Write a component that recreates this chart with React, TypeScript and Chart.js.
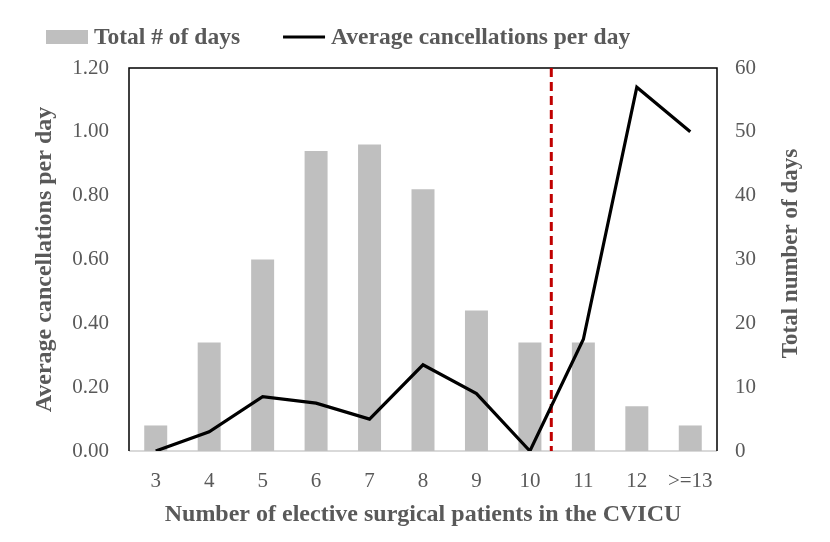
import React, { useEffect, useRef } from "react";
import { Chart, registerables } from "chart.js";

Chart.register(...registerables);

const categories = ["3", "4", "5", "6", "7", "8", "9", "10", "11", "12", ">=13"];
const totalDays = [4, 17, 30, 47, 48, 41, 22, 17, 17, 7, 4];
const avgCancellations = [0, 0.06, 0.17, 0.15, 0.1, 0.27, 0.18, 0, 0.35, 1.14, 1.0];
const leftTicks = { min: 0, max: 1.2, step: 0.2 };
const rightTicks = { min: 0, max: 60, step: 10 };
const thresholdIndex = 7.4; // between "10" and "11"
const rightTitle = "Total number of days";

const FONT = '"Liberation Serif", "Times New Roman", serif';
const GREY = "#595959";

const framePlugin = {
  id: "frame",
  beforeDatasetsDraw(chart: any) {
    const { ctx, chartArea } = chart;
    const { left, right, top, bottom } = chartArea;
    ctx.save();
    ctx.strokeStyle = "#d9d9d9";
    ctx.lineWidth = 2;
    ctx.beginPath();
    ctx.moveTo(left, bottom);
    ctx.lineTo(right, bottom);
    ctx.stroke();
    ctx.strokeStyle = "#000";
    ctx.lineWidth = 1.5;
    ctx.beginPath();
    ctx.moveTo(left, bottom);
    ctx.lineTo(left, top);
    ctx.lineTo(right, top);
    ctx.lineTo(right, bottom);
    ctx.stroke();
    const x = chart.scales.x.getPixelForValue(thresholdIndex);
    ctx.strokeStyle = "#c00000";
    ctx.lineWidth = 3;
    ctx.setLineDash([9, 5]);
    ctx.beginPath();
    ctx.moveTo(x, top);
    ctx.lineTo(x, bottom);
    ctx.stroke();
    ctx.restore();
  },
};

const legendPlugin = {
  id: "customLegend",
  afterDraw(chart: any) {
    const { ctx, chartArea } = chart;
    const y = 37;
    let x = 46;
    const boxW = 42;
    ctx.save();
    ctx.font = `bold 23.5px ${FONT}`;
    ctx.textBaseline = "middle";
    ctx.textAlign = "left";
    chart.data.datasets.forEach((ds: any) => {
      if (ds.type === "line") {
        ctx.strokeStyle = ds.borderColor;
        ctx.lineWidth = 3;
        ctx.beginPath();
        ctx.moveTo(x, y);
        ctx.lineTo(x + boxW, y);
        ctx.stroke();
      } else {
        ctx.fillStyle = ds.backgroundColor;
        ctx.fillRect(x, y - 7, boxW, 14);
      }
      const tx = x + boxW + 6;
      ctx.fillStyle = GREY;
      ctx.fillText(ds.label, tx, y + 1);
      x = tx + ctx.measureText(ds.label).width + 43;
    });
    ctx.font = `bold 23px ${FONT}`;
    ctx.textAlign = "center";
    ctx.translate(791, (chartArea.top + chartArea.bottom) / 2 - 6);
    ctx.rotate(-Math.PI / 2);
    ctx.fillText(rightTitle, 0, 0);
    ctx.restore();
  },
};

export default function App() {
  const ref = useRef<HTMLCanvasElement>(null);
  useEffect(() => {
    if (!ref.current) return;
    const tickFont = { family: FONT, size: 21 };
    const titleFont = { family: FONT, size: 24, weight: "bold" as const };
    const chart = new Chart(ref.current, {
      type: "bar",
      data: {
        labels: categories,
        datasets: [
          {
            type: "bar",
            label: "Total # of days",
            data: totalDays,
            backgroundColor: "#bfbfbf",
            yAxisID: "y1",
            barPercentage: 0.43,
            categoryPercentage: 1.0,
            order: 2,
          },
          {
            type: "line",
            label: "Average cancellations per day",
            data: avgCancellations,
            borderColor: "#000000",
            backgroundColor: "#000000",
            borderWidth: 3.2,
            pointRadius: 0,
            tension: 0,
            yAxisID: "y",
            order: 1,
          } as any,
        ],
      },
      options: {
        animation: false,
        responsive: true,
        maintainAspectRatio: false,
        layout: { padding: { top: 68, left: 0, right: 0, bottom: 0 } },
        plugins: { legend: { display: false }, tooltip: { enabled: false } },
        scales: {
          x: {
            grid: { display: false, drawTicks: false },
            border: { display: false },
            ticks: { font: tickFont, color: GREY, padding: 18, maxRotation: 0, autoSkip: false },
            title: {
              display: true,
              text: "Number of elective surgical patients in the CVICU",
              font: titleFont,
              color: GREY,
              padding: { top: 0, bottom: 13 },
            },
            afterFit: (s: any) => {
              s.height = 91;
            },
          },
          y: {
            position: "left",
            min: leftTicks.min,
            max: leftTicks.max,
            grid: { display: false, drawTicks: false },
            border: { display: false },
            ticks: {
              stepSize: leftTicks.step,
              font: tickFont,
              color: GREY,
              padding: 20,
              callback: (v: any) => Number(v).toFixed(2),
            },
            title: {
              display: true,
              text: "Average cancellations per day",
              font: titleFont,
              color: GREY,
              padding: { top: 30, bottom: 0 },
            },
            afterFit: (s: any) => {
              s.width = 129;
            },
          },
          y1: {
            position: "right",
            min: rightTicks.min,
            max: rightTicks.max,
            grid: { display: false, drawTicks: false },
            border: { display: false },
            ticks: { stepSize: rightTicks.step, font: tickFont, color: GREY, padding: 18 },
            title: { display: false },
            afterFit: (s: any) => {
              s.width = 113;
            },
          },
        },
      },
      plugins: [framePlugin, legendPlugin],
    });
    return () => chart.destroy();
  }, []);
  return (
    <div style={{ position: "absolute", left: 0, top: 0, width: 830, height: 542, background: "#fff" }}>
      <canvas ref={ref} />
    </div>
  );
}
